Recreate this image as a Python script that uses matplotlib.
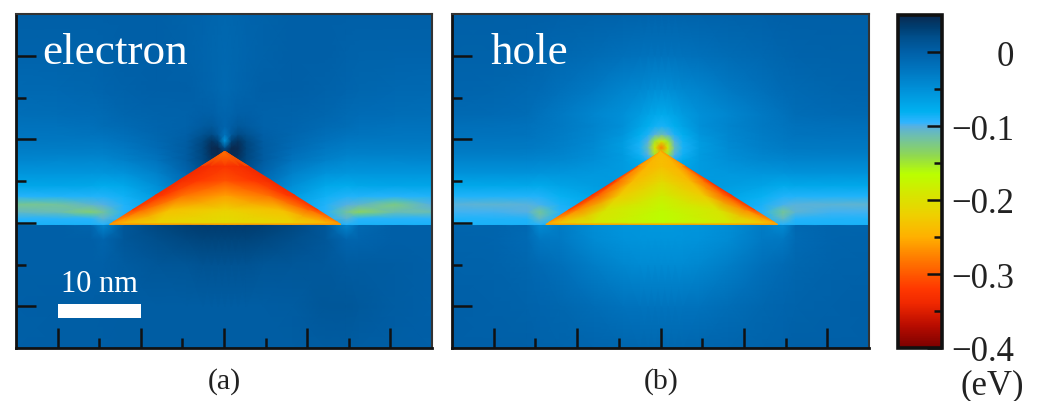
import numpy as np
import matplotlib
matplotlib.use('Agg')
import matplotlib.pyplot as plt
from matplotlib.colors import LinearSegmentedColormap
from matplotlib.patches import Rectangle

W, H = 1037, 402

# colour scale, eV -> colour
cmap_values = [-0.4, -0.37, -0.34, -0.32, -0.28, -0.25, -0.22, -0.19, -0.165, -0.14, -0.115,
               -0.1, -0.095, -0.08, -0.05, -0.02, 0.0, 0.02, 0.035, 0.05]
cmap_colors = ['#7a0000', '#b80c00', '#f02800', '#ff3800', '#ff7a00', '#ffb000', '#eed000',
               '#d4e800', '#baff00', '#90d850', '#70c0a8', '#58b0e0', '#30b4ff', '#00b0f0',
               '#0090d8', '#0072bc', '#0060a8', '#004f8c', '#003c6e', '#0a2a50']

# grid in nm, potential in meV
grid_x = [0, 5, 9, 10.5, 13, 17, 20.5, 22.5, 23.5, 24.3, 25.1, 25.9, 26.7, 27.7, 29.7, 33.2, 37.2, 39.7, 41.2, 45.5, 50]
grid_y = [0, 5, 10, 13, 14.75, 14.8, 15.5, 16.3, 17.2, 18.2, 19.5, 21, 22.5, 23.2, 24, 24.8, 25.6, 26.6, 28, 31, 35, 40]

electron = [
    [0, 2, 2, 2, 3, 3, 3, 3, 3, 3, 3, 3, 3, 3, 3, 3, 5, 5, 3, 2, 0],
    [0, 2, 2, 3, 3, 3, 3, 3, 3, 3, 3, 3, 3, 3, 3, 5, 10, 10, 8, 3, 0],
    [0, 0, 0, 0, 5, 10, 12, 14, 14, 14, 14, 14, 14, 14, 12, 10, 8, 5, 5, 3, 0],
    [0, 0, 0, -5, 10, 20, 25, 28, 28, 28, 28, 28, 28, 28, 25, 20, 10, -5, -5, 0, 0],
    [0, 0, -5, -40, 10, 25, 32, 35, 35, 35, 35, 35, 35, 35, 32, 25, 10, -40, -10, 0, 0],
    [-88, -88, -88, -92, -60, -40, -40, -40, -40, -40, -40, -40, -40, -40, -40, -40, -60, -92, -88, -88, -88],
    [-93, -92, -93, -103, -90, -70, -40, -20, -10, -10, -10, -10, -10, -20, -40, -70, -90, -103, -93, -92, -93],
    [-108, -112, -130, -118, -92, -70, -40, -20, -10, -10, -10, -10, -10, -20, -40, -70, -92, -118, -135, -112, -112],
    [-122, -118, -105, -100, -90, -70, -40, -20, -10, -10, -10, -10, -10, -20, -40, -70, -90, -100, -105, -125, -100],
    [-92, -90, -90, -90, -85, -60, -35, -15, -5, -5, -5, -5, -5, -15, -35, -60, -85, -90, -90, -92, -90],
    [-70, -70, -72, -75, -72, -48, -20, -5, 5, 10, 10, 10, 5, -5, -20, -48, -72, -75, -72, -70, -70],
    [-55, -55, -55, -55, -52, -35, -5, 15, 25, 30, 30, 30, 25, 15, -5, -35, -52, -55, -55, -55, -55],
    [-40, -42, -42, -42, -35, -22, 5, 25, 38, 45, 45, 45, 38, 25, 5, -22, -35, -42, -42, -42, -40],
    [-35, -36, -36, -36, -30, -17, 5, 27, 45, 50, 50, 50, 45, 27, 5, -17, -30, -36, -36, -36, -35],
    [-30, -30, -30, -30, -25, -12, 5, 28, 48, 55, 20, 55, 48, 28, 5, -12, -25, -30, -30, -30, -30],
    [-26, -26, -26, -25, -21, -9, 3, 25, 42, 30, -55, 30, 42, 25, 3, -9, -21, -25, -26, -26, -26],
    [-23, -23, -22, -20, -16, -7, 0, 15, 22, 8, -20, 8, 22, 15, 0, -7, -16, -20, -22, -23, -23],
    [-20, -20, -18, -15, -11, -5, -2, 6, 8, 2, -5, 2, 8, 6, -2, -5, -11, -15, -18, -20, -20],
    [-16, -15, -13, -11, -7, -3, -2, 0, 0, -3, -5, -3, 0, 0, -2, -3, -7, -11, -13, -15, -16],
    [-10, -9, -7, -5, -2, 0, 0, -3, -6, -8, -10, -8, -6, -3, 0, 0, -2, -5, -7, -9, -10],
    [-4, -4, -3, -2, 0, 0, -2, -5, -7, -8, -9, -8, -7, -5, -2, 0, 0, -2, -3, -4, -4],
    [0, 0, 0, 0, 0, 0, -2, -4, -6, -7, -8, -7, -6, -4, -2, 0, 0, 0, 0, 0, 0],
]

hole = [
    [0, 0, 0, -2, -3, -5, -7, -8, -8, -8, -8, -8, -8, -8, -7, -5, -3, -2, 0, 0, 0],
    [0, -1, -3, -5, -8, -15, -20, -22, -22, -22, -22, -22, -22, -22, -20, -15, -8, -5, -3, -1, 0],
    [-2, -3, -8, -12, -18, -32, -42, -45, -45, -45, -45, -45, -45, -45, -42, -32, -18, -12, -8, -3, -2],
    [-3, -5, -12, -25, -28, -45, -52, -54, -54, -54, -54, -54, -54, -54, -52, -45, -28, -25, -12, -5, -3],
    [-5, -5, -10, -45, -30, -48, -55, -56, -57, -57, -57, -57, -57, -56, -55, -48, -30, -45, -10, -5, -5],
    [-88, -88, -88, -92, -85, -85, -85, -85, -85, -85, -85, -85, -85, -85, -85, -85, -85, -92, -88, -88, -88],
    [-90, -90, -90, -108, -90, -80, -70, -60, -60, -60, -60, -60, -60, -60, -70, -80, -90, -108, -92, -90, -90],
    [-97, -97, -100, -120, -92, -80, -70, -60, -60, -60, -60, -60, -60, -60, -70, -80, -92, -120, -103, -97, -97],
    [-102, -104, -102, -98, -88, -75, -65, -60, -60, -60, -60, -60, -60, -60, -65, -75, -88, -98, -102, -103, -104],
    [-90, -90, -90, -90, -82, -70, -60, -60, -60, -60, -60, -60, -60, -60, -60, -70, -82, -90, -90, -90, -90],
    [-72, -72, -72, -74, -68, -62, -58, -60, -62, -62, -62, -62, -62, -60, -58, -62, -68, -74, -72, -72, -72],
    [-52, -52, -52, -54, -55, -58, -60, -65, -68, -70, -70, -70, -68, -65, -60, -58, -55, -54, -52, -52, -52],
    [-38, -38, -38, -40, -42, -50, -60, -75, -88, -100, -110, -100, -88, -75, -60, -50, -42, -40, -38, -38, -38],
    [-32, -32, -33, -35, -38, -47, -60, -85, -100, -150, -190, -150, -100, -85, -60, -47, -38, -35, -33, -32, -32],
    [-27, -27, -28, -30, -34, -45, -62, -88, -110, -190, -280, -190, -110, -88, -62, -45, -34, -30, -28, -27, -27],
    [-24, -24, -25, -27, -32, -43, -60, -85, -100, -150, -190, -150, -100, -85, -60, -43, -32, -27, -25, -24, -24],
    [-21, -21, -22, -25, -30, -41, -55, -78, -88, -100, -110, -100, -88, -78, -55, -41, -30, -25, -22, -21, -21],
    [-17, -18, -20, -23, -28, -38, -50, -68, -78, -85, -88, -85, -78, -68, -50, -38, -28, -23, -20, -18, -17],
    [-10, -12, -15, -20, -28, -40, -50, -60, -68, -73, -75, -73, -68, -60, -50, -40, -28, -20, -15, -12, -10],
    [-5, -7, -10, -12, -18, -28, -38, -42, -45, -47, -48, -47, -45, -42, -38, -28, -18, -12, -10, -7, -5],
    [-2, -2, -4, -6, -9, -14, -18, -20, -22, -22, -22, -22, -22, -20, -18, -14, -9, -6, -4, -2, -2],
    [0, 0, 0, 0, -1, -2, -3, -3, -4, -4, -4, -4, -4, -3, -3, -2, -1, 0, 0, 0, 0],
]

# triangular dot: base corners and apex in nm
dot_left, dot_right, dot_base = 11.25, 39.05, 14.8
dot_apex_x, dot_apex_y = 25.1, 23.55
# rows: fraction of the height, columns: fraction of the half width at that height
dot_rows = [0, 0.03, 0.2, 0.4, 0.6, 0.8, 1]
dot_cols = [-1, -0.9, -0.6, 0, 0.6, 0.9, 1]

electron_dot = [
    [-265, -265, -265, -265, -265, -265, -265],
    [-265, -245, -215, -205, -215, -245, -265],
    [-315, -290, -235, -218, -235, -290, -315],
    [-330, -320, -285, -260, -285, -320, -330],
    [-335, -330, -320, -305, -320, -330, -335],
    [-335, -335, -330, -325, -330, -335, -335],
    [-280, -280, -280, -280, -280, -280, -280],
]
hole_dot = [
    [-260, -260, -260, -260, -260, -260, -260],
    [-255, -230, -190, -165, -190, -230, -255],
    [-310, -270, -195, -170, -195, -270, -310],
    [-330, -295, -225, -185, -225, -295, -330],
    [-325, -285, -240, -210, -240, -285, -325],
    [-295, -265, -245, -235, -245, -265, -295],
    [-240, -240, -240, -240, -240, -240, -240],
]

x_major = [5, 15, 25, 35, 45]
x_minor = [10, 20, 30, 40]
y_major = [5, 15, 25, 35]
y_minor = [10, 20, 30]
cbar_major = [0, -0.1, -0.2, -0.3, -0.4]
cbar_minor = [-0.05, -0.15, -0.25, -0.35]
cbar_labels = ['0', '\u22120.1', '\u22120.2', '\u22120.3', '\u22120.4']

plt.rcParams['font.family'] = ['Liberation Serif', 'DejaVu Serif']

VMIN, VMAX = -0.4, 0.05
stops = [((v - VMIN) / (VMAX - VMIN), c) for v, c in zip(cmap_values, cmap_colors)]
cmap = LinearSegmentedColormap.from_list('potential', stops, N=512)


def add_axes(x0, y0, x1, y1):
    # pixel box, y down
    return fig.add_axes([x0 / W, 1 - y1 / H, (x1 - x0) / W, (y1 - y0) / H])


def draw_panel(ax, field, dot):
    gx, gy = np.meshgrid(grid_x, grid_y)
    m = ax.pcolormesh(gx, gy, np.array(field) / 1000, shading='gouraud', cmap=cmap, vmin=VMIN, vmax=VMAX)
    # mesh follows the sloped sides of the dot
    rows, cols = np.meshgrid(dot_rows, dot_cols, indexing='ij')
    half = (dot_right - dot_left) / 2 * (1 - rows)
    centre = (dot_left + dot_right) / 2 + (dot_apex_x - (dot_left + dot_right) / 2) * rows
    dx = centre + cols * half
    dy = dot_base + (dot_apex_y - dot_base) * rows
    ax.pcolormesh(dx, dy, np.array(dot) / 1000, shading='gouraud', cmap=cmap, vmin=VMIN, vmax=VMAX)
    ax.set_xlim(0, 50)
    ax.set_ylim(0, 40)
    ax.set_xticks(x_major)
    ax.set_xticks(x_minor, minor=True)
    ax.set_yticks(y_major)
    ax.set_yticks(y_minor, minor=True)
    ax.tick_params(which='major', direction='in', length=14.5, width=1.8, labelbottom=False, labelleft=False, color='#111111')
    ax.tick_params(which='minor', direction='in', length=7.5, width=1.8, color='#111111')
    for side in ['left', 'bottom']:
        ax.spines[side].set_linewidth(2)
        ax.spines[side].set_color('#111111')
    for side in ['top', 'right']:
        ax.spines[side].set_linewidth(1.5)
        ax.spines[side].set_color('#333333')
    return m


fig = plt.figure(figsize=(W / 100, H / 100), dpi=100)

ax_a = add_axes(16, 15, 432, 349)
ax_b = add_axes(452, 15, 869, 349)
mesh = draw_panel(ax_a, electron, electron_dot)
draw_panel(ax_b, hole, hole_dot)

ax_a.text(3.2, 35.5, 'electron', color='white', fontsize=32.5, ha='left', va='center')
ax_b.text(4.6, 35.5, 'hole', color='white', fontsize=32.5, ha='left', va='center')
ax_a.add_patch(Rectangle((5, 3.6), 10, 1.7, fc='white', ec='none'))
ax_a.text(10, 7.7, '10 nm', color='white', fontsize=22, ha='center', va='center')

fig.text(224 / W, 1 - 382 / H, '(a)', fontsize=21.5, ha='center', va='center', color='#222222')
fig.text(661 / W, 1 - 382 / H, '(b)', fontsize=21.5, ha='center', va='center', color='#222222')

cax = add_axes(898, 16, 942, 349)
cb = fig.colorbar(mesh, cax=cax)
cb.outline.set_linewidth(2.6)
cb.outline.set_edgecolor('#111111')
cax.yaxis.set_ticks_position('right')
cax.set_yticks(cbar_major)
cax.set_yticklabels(cbar_labels, fontsize=25, ha='right', color='#222222')
cax.set_yticks(cbar_minor, minor=True)
cax.tick_params(which='major', direction='in', length=11, width=1.8, pad=52, color='#111111')
cax.tick_params(which='minor', direction='in', length=6, width=1.8, color='#111111')
fig.text(992 / W, 1 - 386 / H, '(eV)', fontsize=25, ha='center', va='center', color='#222222')

fig.savefig('out.png', dpi=100)
